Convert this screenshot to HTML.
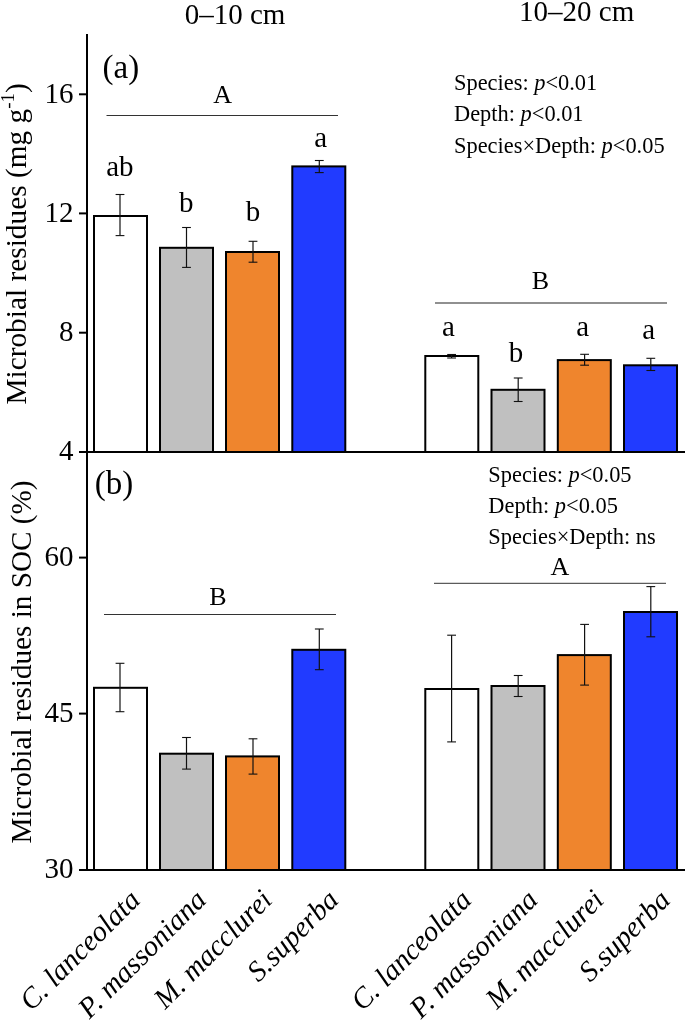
<!DOCTYPE html>
<html><head><meta charset="utf-8"><style>
html,body{margin:0;padding:0;background:#fff;}
body{width:685px;height:1024px;overflow:hidden;font-family:"Liberation Serif", serif;}
svg{display:block;will-change:transform;}
text{fill:#000;}
</style></head><body>
<svg width="685" height="1024" viewBox="0 0 685 1024" font-family='"Liberation Serif", serif'><rect x="94.00" y="216.00" width="53" height="236.00" fill="#ffffff" stroke="#000" stroke-width="2"/>
<rect x="160.00" y="247.80" width="53" height="204.20" fill="#c0c0c0" stroke="#000" stroke-width="2"/>
<rect x="226.00" y="252.00" width="53" height="200.00" fill="#ef852d" stroke="#000" stroke-width="2"/>
<rect x="292.30" y="166.40" width="53" height="285.60" fill="#213bff" stroke="#000" stroke-width="2"/>
<rect x="425.30" y="356.00" width="53" height="96.00" fill="#ffffff" stroke="#000" stroke-width="2"/>
<rect x="491.50" y="389.80" width="53" height="62.20" fill="#c0c0c0" stroke="#000" stroke-width="2"/>
<rect x="557.80" y="360.10" width="53" height="91.90" fill="#ef852d" stroke="#000" stroke-width="2"/>
<rect x="624.00" y="365.30" width="53" height="86.70" fill="#213bff" stroke="#000" stroke-width="2"/>
<line x1="120.0" y1="194.5" x2="120.0" y2="235.6" stroke="#111" stroke-width="1.2"/>
<line x1="115.6" y1="194.5" x2="124.4" y2="194.5" stroke="#111" stroke-width="1.1"/>
<line x1="115.6" y1="235.6" x2="124.4" y2="235.6" stroke="#111" stroke-width="1.1"/>
<line x1="186.5" y1="227.5" x2="186.5" y2="267.4" stroke="#111" stroke-width="1.2"/>
<line x1="182.1" y1="227.5" x2="190.9" y2="227.5" stroke="#111" stroke-width="1.1"/>
<line x1="182.1" y1="267.4" x2="190.9" y2="267.4" stroke="#111" stroke-width="1.1"/>
<line x1="253.0" y1="241.3" x2="253.0" y2="262.2" stroke="#111" stroke-width="1.2"/>
<line x1="248.6" y1="241.3" x2="257.4" y2="241.3" stroke="#111" stroke-width="1.1"/>
<line x1="248.6" y1="262.2" x2="257.4" y2="262.2" stroke="#111" stroke-width="1.1"/>
<line x1="319.3" y1="160.5" x2="319.3" y2="172.6" stroke="#111" stroke-width="1.2"/>
<line x1="314.90000000000003" y1="160.5" x2="323.7" y2="160.5" stroke="#111" stroke-width="1.1"/>
<line x1="314.90000000000003" y1="172.6" x2="323.7" y2="172.6" stroke="#111" stroke-width="1.1"/>
<line x1="451.6" y1="354.5" x2="451.6" y2="358" stroke="#111" stroke-width="1.2"/>
<line x1="447.20000000000005" y1="354.5" x2="456.0" y2="354.5" stroke="#111" stroke-width="1.1"/>
<line x1="447.20000000000005" y1="358" x2="456.0" y2="358" stroke="#111" stroke-width="1.1"/>
<line x1="518.2" y1="378" x2="518.2" y2="401.5" stroke="#111" stroke-width="1.2"/>
<line x1="513.8000000000001" y1="378" x2="522.6" y2="378" stroke="#111" stroke-width="1.1"/>
<line x1="513.8000000000001" y1="401.5" x2="522.6" y2="401.5" stroke="#111" stroke-width="1.1"/>
<line x1="584.6" y1="354.3" x2="584.6" y2="365.2" stroke="#111" stroke-width="1.2"/>
<line x1="580.2" y1="354.3" x2="589.0" y2="354.3" stroke="#111" stroke-width="1.1"/>
<line x1="580.2" y1="365.2" x2="589.0" y2="365.2" stroke="#111" stroke-width="1.1"/>
<line x1="650.8" y1="358.3" x2="650.8" y2="370.5" stroke="#111" stroke-width="1.2"/>
<line x1="646.4" y1="358.3" x2="655.1999999999999" y2="358.3" stroke="#111" stroke-width="1.1"/>
<line x1="646.4" y1="370.5" x2="655.1999999999999" y2="370.5" stroke="#111" stroke-width="1.1"/>
<rect x="94.00" y="687.80" width="53" height="182.20" fill="#ffffff" stroke="#000" stroke-width="2"/>
<rect x="160.00" y="753.70" width="53" height="116.30" fill="#c0c0c0" stroke="#000" stroke-width="2"/>
<rect x="226.00" y="756.40" width="53" height="113.60" fill="#ef852d" stroke="#000" stroke-width="2"/>
<rect x="292.30" y="649.80" width="53" height="220.20" fill="#213bff" stroke="#000" stroke-width="2"/>
<rect x="425.30" y="689.00" width="53" height="181.00" fill="#ffffff" stroke="#000" stroke-width="2"/>
<rect x="491.50" y="686.00" width="53" height="184.00" fill="#c0c0c0" stroke="#000" stroke-width="2"/>
<rect x="557.80" y="655.10" width="53" height="214.90" fill="#ef852d" stroke="#000" stroke-width="2"/>
<rect x="624.00" y="612.00" width="53" height="258.00" fill="#213bff" stroke="#000" stroke-width="2"/>
<line x1="120.0" y1="663.3" x2="120.0" y2="711.7" stroke="#111" stroke-width="1.2"/>
<line x1="115.6" y1="663.3" x2="124.4" y2="663.3" stroke="#111" stroke-width="1.1"/>
<line x1="115.6" y1="711.7" x2="124.4" y2="711.7" stroke="#111" stroke-width="1.1"/>
<line x1="186.5" y1="737.5" x2="186.5" y2="769.1" stroke="#111" stroke-width="1.2"/>
<line x1="182.1" y1="737.5" x2="190.9" y2="737.5" stroke="#111" stroke-width="1.1"/>
<line x1="182.1" y1="769.1" x2="190.9" y2="769.1" stroke="#111" stroke-width="1.1"/>
<line x1="253.0" y1="738.8" x2="253.0" y2="774.1" stroke="#111" stroke-width="1.2"/>
<line x1="248.6" y1="738.8" x2="257.4" y2="738.8" stroke="#111" stroke-width="1.1"/>
<line x1="248.6" y1="774.1" x2="257.4" y2="774.1" stroke="#111" stroke-width="1.1"/>
<line x1="319.3" y1="629" x2="319.3" y2="669.7" stroke="#111" stroke-width="1.2"/>
<line x1="314.90000000000003" y1="629" x2="323.7" y2="629" stroke="#111" stroke-width="1.1"/>
<line x1="314.90000000000003" y1="669.7" x2="323.7" y2="669.7" stroke="#111" stroke-width="1.1"/>
<line x1="451.6" y1="635.2" x2="451.6" y2="741.9" stroke="#111" stroke-width="1.2"/>
<line x1="447.20000000000005" y1="635.2" x2="456.0" y2="635.2" stroke="#111" stroke-width="1.1"/>
<line x1="447.20000000000005" y1="741.9" x2="456.0" y2="741.9" stroke="#111" stroke-width="1.1"/>
<line x1="518.2" y1="675.5" x2="518.2" y2="696.5" stroke="#111" stroke-width="1.2"/>
<line x1="513.8000000000001" y1="675.5" x2="522.6" y2="675.5" stroke="#111" stroke-width="1.1"/>
<line x1="513.8000000000001" y1="696.5" x2="522.6" y2="696.5" stroke="#111" stroke-width="1.1"/>
<line x1="584.6" y1="624.4" x2="584.6" y2="685.1" stroke="#111" stroke-width="1.2"/>
<line x1="580.2" y1="624.4" x2="589.0" y2="624.4" stroke="#111" stroke-width="1.1"/>
<line x1="580.2" y1="685.1" x2="589.0" y2="685.1" stroke="#111" stroke-width="1.1"/>
<line x1="650.8" y1="586.6" x2="650.8" y2="636.8" stroke="#111" stroke-width="1.2"/>
<line x1="646.4" y1="586.6" x2="655.1999999999999" y2="586.6" stroke="#111" stroke-width="1.1"/>
<line x1="646.4" y1="636.8" x2="655.1999999999999" y2="636.8" stroke="#111" stroke-width="1.1"/>
<line x1="87" y1="34" x2="87" y2="871" stroke="#000" stroke-width="2"/>
<line x1="79" y1="452" x2="685" y2="452" stroke="#000" stroke-width="2"/>
<line x1="79" y1="870" x2="685" y2="870" stroke="#000" stroke-width="2"/>
<line x1="79" y1="94.3" x2="87" y2="94.3" stroke="#000" stroke-width="2"/>
<line x1="79" y1="213.4" x2="87" y2="213.4" stroke="#000" stroke-width="2"/>
<line x1="79" y1="332.7" x2="87" y2="332.7" stroke="#000" stroke-width="2"/>
<line x1="79" y1="557.6" x2="87" y2="557.6" stroke="#000" stroke-width="2"/>
<line x1="79" y1="713.6" x2="87" y2="713.6" stroke="#000" stroke-width="2"/>
<text x="73.4" y="102.6" font-size="29" text-anchor="end" >16</text>
<text x="73.4" y="221.70000000000002" font-size="29" text-anchor="end" >12</text>
<text x="73.4" y="341.0" font-size="29" text-anchor="end" >8</text>
<text x="73.4" y="460.3" font-size="29" text-anchor="end" >4</text>
<text x="73.4" y="565.9" font-size="29" text-anchor="end" >60</text>
<text x="73.4" y="721.9" font-size="29" text-anchor="end" >45</text>
<text x="73.4" y="878.3" font-size="29" text-anchor="end" >30</text>
<line x1="106.5" y1="115.5" x2="338" y2="115.5" stroke="#333" stroke-width="1"/>
<line x1="435" y1="303" x2="667" y2="303" stroke="#222" stroke-width="1.2"/>
<line x1="104" y1="614.5" x2="336" y2="614.5" stroke="#333" stroke-width="1"/>
<line x1="434" y1="583.3" x2="666" y2="583.3" stroke="#333" stroke-width="1"/>
<text x="222.6" y="102.5" font-size="26" text-anchor="middle" >A</text>
<text x="540.5" y="289" font-size="26" text-anchor="middle" >B</text>
<text x="218" y="604.5" font-size="26" text-anchor="middle" >B</text>
<text x="560" y="574.5" font-size="26" text-anchor="middle" >A</text>
<text x="119.9" y="175.5" font-size="29" text-anchor="middle" >ab</text>
<text x="186.3" y="212" font-size="29" text-anchor="middle" >b</text>
<text x="253" y="221.2" font-size="29" text-anchor="middle" >b</text>
<text x="320.7" y="147.3" font-size="29" text-anchor="middle" >a</text>
<text x="448.5" y="335.6" font-size="29" text-anchor="middle" >a</text>
<text x="516" y="362" font-size="29" text-anchor="middle" >b</text>
<text x="582.7" y="335.7" font-size="29" text-anchor="middle" >a</text>
<text x="648.7" y="338.9" font-size="29" text-anchor="middle" >a</text>
<text x="235" y="24" font-size="29" text-anchor="middle" >0–10 cm</text>
<text x="576.7" y="21" font-size="29" text-anchor="middle" >10–20 cm</text>
<text x="102.5" y="77.5" font-size="33" text-anchor="start" >(a)</text>
<text x="94.8" y="494.4" font-size="33" text-anchor="start" >(b)</text>
<text x="454" y="90.1" font-size="22.4" text-anchor="start" >Species: <tspan font-style="italic">p</tspan>&lt;0.01</text>
<text x="454" y="121.3" font-size="22.4" text-anchor="start" >Depth: <tspan font-style="italic">p</tspan>&lt;0.01</text>
<text x="454" y="152.5" font-size="22.4" text-anchor="start" >Species×Depth: <tspan font-style="italic">p</tspan>&lt;0.05</text>
<text x="488.3" y="482.4" font-size="22.4" text-anchor="start" >Species: <tspan font-style="italic">p</tspan>&lt;0.05</text>
<text x="488.3" y="513.1" font-size="22.4" text-anchor="start" >Depth: <tspan font-style="italic">p</tspan>&lt;0.05</text>
<text x="488.3" y="543.8" font-size="22.4" text-anchor="start" >Species×Depth: ns</text>
<text transform="translate(26.4,404.6) rotate(-90)" font-size="29.35">Microbial residues (mg g<tspan font-size="19" dy="-12">-1</tspan><tspan dy="12">)</tspan></text>
<text transform="translate(31,843.6) rotate(-90)" font-size="29.2">Microbial residues in SOC (%)</text>
<text transform="translate(141.7,901.5) rotate(-45)" font-size="29" font-style="italic" text-anchor="end">C. lanceolata</text>
<text transform="translate(207.7,901.5) rotate(-45)" font-size="29" font-style="italic" text-anchor="end">P. massoniana</text>
<text transform="translate(273.7,901.5) rotate(-45)" font-size="29" font-style="italic" text-anchor="end">M. macclurei</text>
<text transform="translate(340.0,901.5) rotate(-45)" font-size="29" font-style="italic" text-anchor="end">S.superba</text>
<text transform="translate(473.0,901.5) rotate(-45)" font-size="29" font-style="italic" text-anchor="end">C. lanceolata</text>
<text transform="translate(539.2,901.5) rotate(-45)" font-size="29" font-style="italic" text-anchor="end">P. massoniana</text>
<text transform="translate(605.5,901.5) rotate(-45)" font-size="29" font-style="italic" text-anchor="end">M. macclurei</text>
<text transform="translate(671.7,901.5) rotate(-45)" font-size="29" font-style="italic" text-anchor="end">S.superba</text></svg>
</body></html>
